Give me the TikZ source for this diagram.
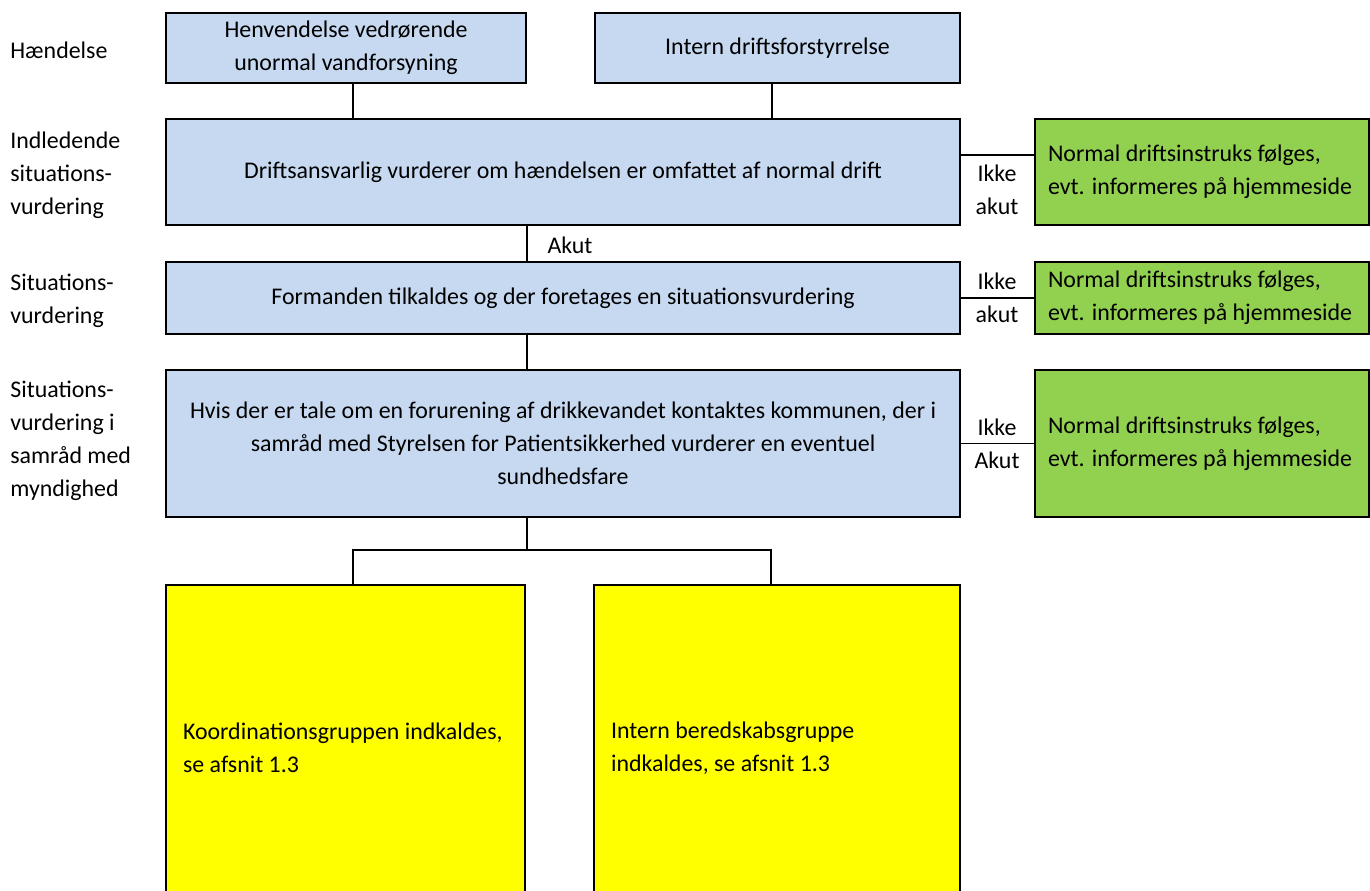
\documentclass[tikz,border=0pt]{standalone}
\usepackage{fontspec}
\setmainfont{Carlito}
\definecolor{boxblue}{HTML}{C6D9F0}
\definecolor{boxgreen}{HTML}{92D050}
\definecolor{boxyellow}{HTML}{FFFF00}

\begin{document}
\begin{tikzpicture}[x=0.02cm,y=-0.02cm]
    \tikzstyle{txt}=[font=\fontsize{13.6}{18.7}\selectfont, inner sep=0pt]
    \tikzstyle{bluebox}=[txt, rectangle, draw, line width=1.1pt, fill=boxblue, align=center]
    \tikzstyle{greenbox}=[txt, rectangle, draw, line width=1.1pt, fill=boxgreen, align=flush left,
                          minimum width=6.68cm, text width=6.16cm, inner xsep=0.26cm]
    \tikzstyle{yellowbox}=[txt, rectangle, draw, line width=1.1pt, fill=boxyellow, align=flush left,
                           minimum height=6.52cm, inner xsep=0.34cm]
    \tikzstyle{label}=[txt, align=flush left, anchor=west]
    \tikzstyle{conn}=[line width=1.1pt]
    \clip (0,0) rectangle (1370,891);

    % left column
    \node[label] (l1) at (10,50)  {Hændelse};
    \node[label] (l2) at (10,175) {Indledende\\situations-\\vurdering};
    \node[label] (l3) at (10,301) {Situations-\\vurdering};
    \node[label] (l4) at (10,441) {Situations-\\vurdering i\\samråd med\\myndighed};

    % blue boxes
    \node[bluebox, minimum width=7.2cm, minimum height=1.4cm] (hv) at (346,48)
        {Henvendelse vedrørende\\unormal vandforsyning};
    \node[bluebox, minimum width=7.3cm, minimum height=1.4cm] (intern) at (777.5,48)
        {Intern driftsforstyrrelse};
    \node[bluebox, minimum width=15.88cm, minimum height=2.12cm] (drift) at (563,172)
        {Driftsansvarlig vurderer om hændelsen er omfattet af normal drift};
    \node[bluebox, minimum width=15.88cm, minimum height=1.44cm] (formand) at (563,298)
        {Formanden tilkaldes og der foretages en situationsvurdering};
    \node[bluebox, minimum width=15.88cm, minimum height=2.94cm] (kontakt) at (563,443.5)
        {Hvis der er tale om en forurening af drikkevandet kontaktes kommunen, der i\\
         samråd med Styrelsen for Patientsikkerhed vurderer en eventuel\\
         sundhedsfare};

    % green boxes
    \node[greenbox, minimum height=2.12cm] (gr1) at (1202,172)
        {Normal driftsinstruks følges,\\evt. informeres på hjemmeside};
    \node[greenbox, minimum height=1.44cm] (gr2) at (1202,298)
        {Normal driftsinstruks følges,\\evt. informeres på hjemmeside};
    \node[greenbox, minimum height=2.94cm] (gr3) at (1202,443.5)
        {Normal driftsinstruks følges,\\evt. informeres på hjemmeside};

    % yellow boxes
    \node[yellowbox, minimum width=7.18cm, text width=6.5cm] (koord) at (345.5,748)
        {Koordinationsgruppen indkaldes,\\se afsnit 1.3};
    \node[yellowbox, minimum width=7.32cm, text width=6.64cm] (beredskab) at (777,748)
        {Intern beredskabsgruppe\\indkaldes, se afsnit 1.3};

    % labels on the lines
    \node[txt, align=center] (ik1) at (997,190) {Ikke\\akut};
    \node[txt, align=center] (ik2) at (997,298) {Ikke\\akut};
    \node[txt, align=center] (ik3) at (997,443.5) {Ikke\\Akut};
    \node[txt] (akut) at (570,245) {Akut};

    \coordinate (split) at (527,550);

    % connectors
    \draw[conn] ([xshift=0.14cm]hv.south) -- ([xshift=0.14cm]hv.south |- drift.north);
    \draw[conn] ([xshift=-0.11cm]intern.south) -- ([xshift=-0.11cm]intern.south |- drift.north);
    \draw[conn] (drift.south -| split) -- (formand.north -| split);
    \draw[conn] (formand.south -| split) -- (kontakt.north -| split);
    \draw[conn] (kontakt.south -| split) -- (split);
    \draw[conn] ([xshift=0.15cm]koord.north) |- (split) -| ([xshift=-0.12cm]beredskab.north);
    \draw[conn] ([yshift=0.34cm]drift.east) -- ([yshift=0.34cm]gr1.west);
    \draw[conn] (formand.east) -- (gr2.west);
    \draw[conn] (kontakt.east) -- (gr3.west);

\end{tikzpicture}
\end{document}
